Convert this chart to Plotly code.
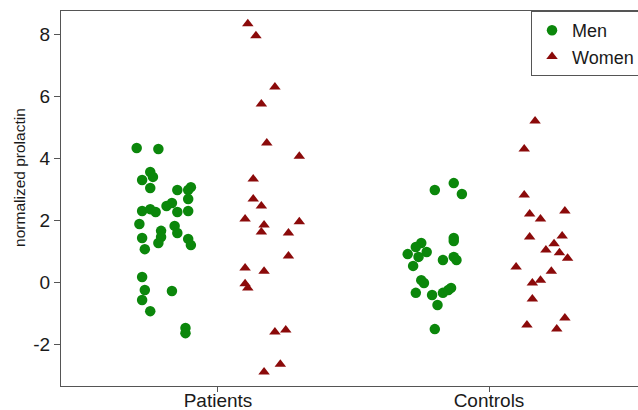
import plotly.graph_objects as go

# Categories and their axis positions
categories = ["Patients", "Controls"]
cat_pos = [1, 2]
y_ticks = [-2, 0, 2, 4, 6, 8]
y_tick_labels = ["-2", "0", "2", "4", "6", "8"]

# Patients - Men (horizontal jitter offset, value)
pm_dx = [-0.30, -0.22, -0.25, -0.28, -0.24, -0.25, -0.15, -0.10, -0.11, -0.11, -0.17, -0.19,
         -0.28, -0.25, -0.23, -0.15, -0.11, -0.29, -0.16, -0.15, -0.21, -0.21, -0.22, -0.28,
         -0.27, -0.11, -0.10, -0.28, -0.27, -0.17, -0.28, -0.25, -0.12, -0.12]
pm_y = [4.32, 4.29, 3.55, 3.29, 3.39, 3.03, 2.97, 3.06, 2.97, 2.68, 2.55, 2.45,
        2.29, 2.35, 2.26, 2.26, 2.29, 1.87, 1.81, 1.58, 1.65, 1.45, 1.26, 1.42,
        1.06, 1.39, 1.19, 0.16, -0.26, -0.29, -0.58, -0.94, -1.48, -1.65]

# Patients - Women
pw_dx = [0.11, 0.14, 0.21, 0.16, 0.18, 0.30, 0.13, 0.13, 0.16, 0.10, 0.17, 0.16,
         0.30, 0.26, 0.26, 0.10, 0.17, 0.10, 0.11, 0.21, 0.25, 0.23, 0.17]
pw_y = [8.33, 7.94, 6.29, 5.74, 4.48, 4.06, 3.32, 2.68, 2.45, 2.03, 1.84, 1.61,
        1.94, 1.58, 0.84, 0.45, 0.35, -0.06, -0.19, -1.61, -1.55, -2.65, -2.90]

# Controls - Men
cm_dx = [-0.20, -0.13, -0.10, -0.25, -0.27, -0.23, -0.30, -0.26, -0.28, -0.13, -0.13, -0.17,
         -0.13, -0.12, -0.25, -0.24, -0.27, -0.21, -0.19, -0.17, -0.15, -0.14, -0.20]
cm_y = [2.97, 3.19, 2.84, 1.26, 1.13, 0.97, 0.90, 0.81, 0.52, 1.42, 1.32, 0.71,
        0.81, 0.71, 0.06, -0.03, -0.35, -0.42, -0.74, -0.35, -0.26, -0.19, -1.52]

# Controls - Women
cw_dx = [0.17, 0.13, 0.13, 0.15, 0.19, 0.28, 0.15, 0.27, 0.24, 0.21, 0.26, 0.29,
         0.10, 0.23, 0.19, 0.16, 0.16, 0.28, 0.14, 0.25]
cw_y = [5.19, 4.29, 2.81, 2.19, 2.03, 2.29, 1.45, 1.48, 1.23, 1.03, 0.94, 0.77,
        0.48, 0.35, 0.06, -0.03, -0.55, -1.16, -1.39, -1.52]

GREEN = "#0b870b"
RED = "#8b0a0a"
FONT = "Liberation Sans, Arial, sans-serif"

men_x = [cat_pos[0] + d for d in pm_dx] + [cat_pos[1] + d for d in cm_dx]
men_y = pm_y + cm_y
women_x = [cat_pos[0] + d for d in pw_dx] + [cat_pos[1] + d for d in cw_dx]
women_y = pw_y + cw_y

fig = go.Figure()
fig.add_trace(go.Scatter(x=men_x, y=men_y, mode="markers", name="Men",
                         marker=dict(symbol="circle", size=10.5, color=GREEN, line=dict(width=0))))
fig.add_trace(go.Scatter(x=women_x, y=women_y, mode="markers", name="Women",
                         marker=dict(symbol="triangle-up", size=10, color=RED, line=dict(width=0))))

fig.update_layout(
    width=638, height=410,
    margin=dict(l=61, r=0, t=11, b=24, autoexpand=False),
    paper_bgcolor="white", plot_bgcolor="white",
    font=dict(family=FONT, color="#1a1a1a"),
    showlegend=True,
    legend=dict(x=0.8146, y=1.0, xanchor="left", yanchor="top",
                bordercolor="#555555", borderwidth=1, bgcolor="white",
                font=dict(size=18, family=FONT, color="#1a1a1a"),
                tracegroupgap=0),
    xaxis=dict(range=[0.4207, 2.5498], tickmode="array", tickvals=cat_pos, ticktext=categories,
               automargin=False,
               showgrid=False, zeroline=False, showline=True, linecolor="#555555", linewidth=1,
               mirror=True, ticks="outside", ticklen=5, tickcolor="#555555",
               ticklabelstandoff=-8,
               tickfont=dict(size=19, family=FONT, color="#1a1a1a")),
    yaxis=dict(range=[-3.355, 8.742], tickmode="array", tickvals=y_ticks, ticktext=y_tick_labels,
               automargin=False,
               showgrid=False, zeroline=False, showline=True, linecolor="#555555", linewidth=1,
               mirror=False, ticks="outside", ticklen=6, tickcolor="#555555",
               ticklabelstandoff=0,
               tickfont=dict(size=19, family=FONT, color="#1a1a1a")),
    annotations=[dict(text="normalized prolactin", textangle=-90, xref="paper", yref="paper",
                      x=-0.071, y=0.555, xanchor="center", yanchor="middle", showarrow=False,
                      font=dict(size=15.5, family=FONT, color="#1a1a1a"))],
)

fig.write_html("out.html",
               config={"displayModeBar": False},
               post_script="document.body.style.margin='0';document.body.style.overflow='hidden';")
